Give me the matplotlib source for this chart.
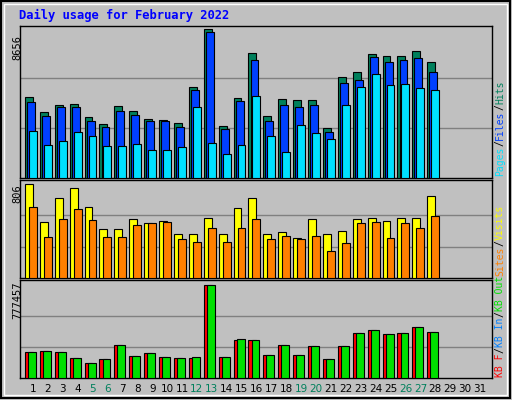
import matplotlib
matplotlib.use("Agg")
import matplotlib.pyplot as plt
import numpy as np

days = list(range(1, 32))
weekend = [5, 6, 12, 13, 19, 20, 26, 27]
# pixel-derived estimates converted to values
hits_px = [96,111,104,103,116,123,105,110,118,119,122,86,29,125,97,53,115,98,99,99,127,76,71,54,56,56,51,62]
files_px = [101,115,106,106,120,126,110,114,120,120,126,89,32,128,100,60,120,104,106,104,131,82,79,57,62,60,58,71]
pages_px = [130,143,139,131,135,144,144,142,148,148,145,106,141,152,143,95,135,150,124,132,138,104,86,73,84,83,87,89]
visits_px = [184,221,198,188,206,228,228,218,222,220,233,233,217,233,207,198,233,231,237,218,233,230,218,217,220,217,217,196]
sites_px = [206,236,218,208,219,236,236,224,222,221,238,241,227,241,227,218,238,235,238,235,250,242,222,221,237,222,227,215]
kbin_px = [80,79,80,85,90,86,73,83,81,84,85,84,14,84,67,68,82,73,82,74,86,74,61,58,62,61,55,60]
kbf_px = [80,79,80,85,90,86,73,83,81,84,85,85,14,84,68,68,82,73,82,74,86,74,61,58,62,61,55,60]

hits = [(176 - p) / 148 * 8656 for p in hits_px]
files = [(176 - p) / 148 * 8656 for p in files_px]
pages = [(176 - p) / 148 * 8656 for p in pages_px]
visits = [(276 - p) / 92 * 806 for p in visits_px]
sites = [(276 - p) / 92 * 806 for p in sites_px]
kbin = [(105 - p) / 91 * 777457 for p in kbin_px]
kbf = [(105 - p) / 91 * 777457 for p in kbf_px]

W, H = 512, 400
fig = plt.figure(figsize=(W / 100, H / 100), dpi=100)
fig.patch.set_facecolor("#C0C0C0")
bg = fig.add_axes([0, 0, 1, 1]); bg.set_xlim(0, W); bg.set_ylim(H, 0); bg.axis("off")
bg.add_patch(plt.Rectangle((1, 1), W - 3, H - 3, fill=False, ec="black", lw=1.5))
bg.add_patch(plt.Rectangle((4, 4), W - 9, H - 9, fill=False, ec="white", lw=1))

fig.text(19 / W, 1 - 15 / H, "Daily usage for February 2022", color="#0000FF",
         family="DejaVu Sans Mono", weight="bold", fontsize=8.7, va="center")

x0, x1 = 20, 492
xl = (1 - 13 / 14.9, 1 + (492 - 33) / 14.9)

def panel(top, bot):
    ax = fig.add_axes([x0 / W, 1 - bot / H, (x1 - x0) / W, (bot - top) / H])
    ax.set_facecolor("#C0C0C0")
    ax.set_xlim(*xl)
    ax.set_xticks([]); ax.set_yticks([])
    for s in ax.spines.values():
        s.set_color("black"); s.set_linewidth(1)
    return ax

def bars(ax, vals, off, color):
    d = np.arange(1, len(vals) + 1)
    ax.bar(d + off, vals, width=0.53, align="edge", color=color, ec="black", lw=0.8, zorder=3)

ax1 = panel(26, 178)
ax1.set_ylim(0, 8656 * 150 / 148)
for g in (8656 / 3, 8656 * 2 / 3):
    ax1.axhline(g, color="#808080", lw=1, zorder=1)
bars(ax1, hits, -0.54, "#00805C")
bars(ax1, files, -0.40, "#0040FF")
bars(ax1, pages, -0.27, "#00E0FF")

ax2 = panel(180, 278)
ax2.set_ylim(0, 806 * 96 / 92)
for g in (806 / 3, 806 * 2 / 3):
    ax2.axhline(g, color="#808080", lw=1, zorder=1)
bars(ax2, visits, -0.54, "#FFFF00")
bars(ax2, sites, -0.27, "#FF8000")

ax3 = panel(280, 378)
ax3.set_ylim(0, 777457 * 97 / 92)
for g in (777457 / 3, 777457 * 2 / 3):
    ax3.axhline(g, color="#808080", lw=1, zorder=1)
bars(ax3, kbf, -0.54, "#FF0000")
bars(ax3, kbin, -0.33, "#00E000")

mono = "DejaVu Sans Mono"
fig.text(17 / W, 1 - 48 / H, "8656", rotation=90, family=mono, fontsize=7.5, ha="center", va="center")
fig.text(17 / W, 1 - 194 / H, "806", rotation=90, family=mono, fontsize=7.5, ha="center", va="center")
fig.text(17 / W, 1 - 300 / H, "777457", rotation=90, family=mono, fontsize=7.5, ha="center", va="center")

CH = 6.0  # px per char at fontsize 7 mono

def rlabel(y, parts):
    yy = y
    for txt, col in parts:
        fig.text(500 / W, 1 - yy / H, txt, rotation=90, family=mono, fontsize=7,
                 color=col, ha="center", va="bottom")
        yy -= len(txt) * CH

rlabel(176, [("Pages", "#00E0FF"), ("/", "#000000"), ("Files", "#0040FF"), ("/", "#000000"), ("Hits", "#00805C")])
rlabel(276, [("Sites", "#FF8000"), ("/", "#000000"), ("Visits", "#FFFF00")])
rlabel(377, [("KB F", "#FF0000"), ("/", "#000000"), ("KB In", "#0080FF"), ("/", "#000000"), ("KB Out", "#00E000")])

for d in days:
    px = 33 + (d - 1) * 14.9
    fig.text(px / W, 1 - 389 / H, str(d), ha="center", va="center", fontsize=7.5,
             color="#00805C" if d in weekend else "black")

fig.savefig("out.png", dpi=100, facecolor=fig.get_facecolor())
